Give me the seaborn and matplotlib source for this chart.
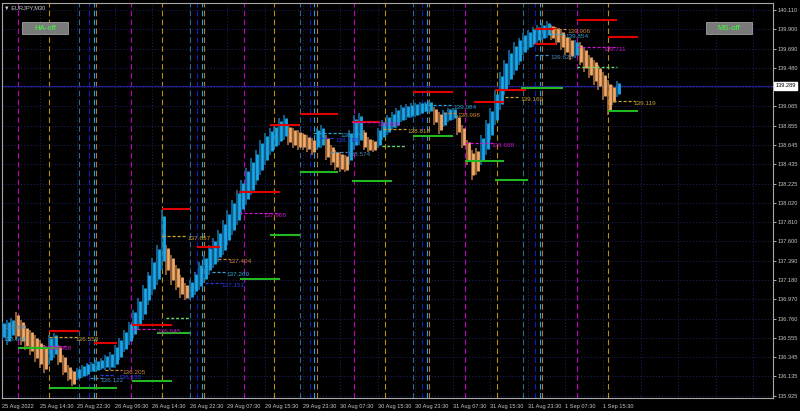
import numpy as np
import pandas as pd
import matplotlib
matplotlib.use("Agg")
import matplotlib.pyplot as plt
import matplotlib.patches as patches
import seaborn as sns

# --------------------------------------------------------------------------------
# Data (hourly Heiken Ashi ranges, EURJPY M30)
# --------------------------------------------------------------------------------

Hi = [136.73, 136.75, 136.77, 136.83, 136.75, 136.69, 136.64, 136.58, 136.53, 136.48,
      136.58, 136.61, 136.48, 136.37, 136.26, 136.21, 136.23, 136.26, 136.28, 136.29,
      136.31, 136.33, 136.37, 136.40, 136.48, 136.55, 136.64, 136.73, 136.86, 136.99,
      137.13, 137.27, 137.42, 137.56, 137.94, 137.56, 137.45, 137.34, 137.24, 137.15,
      137.18, 137.27, 137.38, 137.45, 137.56, 137.64, 137.72, 137.83, 137.94, 138.05,
      138.16, 138.27, 138.40, 138.50, 138.59, 138.70, 138.78, 138.83, 138.87, 138.94,
      138.97, 138.86, 138.83, 138.81, 138.78, 138.75, 138.72, 138.83, 138.86, 138.75,
      138.65, 138.59, 138.57, 138.54, 138.81, 138.97, 138.99, 138.81, 138.73, 138.70,
      138.83, 138.92, 138.97, 139.00, 139.05, 139.08, 139.09, 139.10, 139.10, 139.11,
      139.11, 139.12, 139.06, 139.00, 139.02, 139.05, 139.05, 138.97, 138.86, 138.70,
      138.59, 138.61, 138.75, 138.92, 139.05, 139.24, 139.44, 139.57, 139.68, 139.76,
      139.81, 139.86, 139.89, 139.93, 139.95, 139.97, 139.99, 139.95, 139.93, 139.89,
      139.84, 139.81, 139.78, 139.76, 139.70, 139.62, 139.57, 139.51, 139.44, 139.35,
      139.30, 139.34]

Lo = [136.53, 136.48, 136.55, 136.53, 136.48, 136.42, 136.37, 136.29, 136.23, 136.17,
      136.26, 136.34, 136.26, 136.15, 136.08, 136.03, 136.10, 136.12, 136.14, 136.18,
      136.18, 136.21, 136.21, 136.21, 136.23, 136.31, 136.40, 136.48, 136.55, 136.64,
      136.75, 136.91, 137.02, 137.13, 137.29, 137.24, 137.13, 137.07, 136.99, 136.96,
      136.96, 137.02, 137.07, 137.15, 137.24, 137.31, 137.38, 137.45, 137.56, 137.67,
      137.78, 137.89, 138.00, 138.10, 138.21, 138.32, 138.43, 138.54, 138.59, 138.65,
      138.70, 138.65, 138.61, 138.59, 138.59, 138.57, 138.54, 138.59, 138.61, 138.48,
      138.43, 138.37, 138.35, 138.35, 138.43, 138.59, 138.65, 138.59, 138.57, 138.57,
      138.61, 138.70, 138.75, 138.81, 138.83, 138.89, 138.92, 138.94, 138.95, 138.97,
      139.00, 138.99, 138.86, 138.77, 138.84, 138.89, 138.92, 138.75, 138.61, 138.43,
      138.27, 138.32, 138.43, 138.54, 138.70, 138.86, 139.03, 139.19, 139.30, 139.40,
      139.51, 139.62, 139.68, 139.71, 139.75, 139.78, 139.81, 139.78, 139.73, 139.68,
      139.62, 139.57, 139.59, 139.51, 139.44, 139.37, 139.30, 139.24, 139.13, 138.97,
      139.08, 139.17]

# b = bullish (blue), o = bearish (sandy)
Dirs = ("bbbooooooo" "bboooobbbb" "bbbbbbbbbb" "bbbbbooooo" "bbbbbbbbbb"
        "bbbbbbbbbb" "boooooobbo" "oooobbbooo" "bbbbbbbbbb" "bboobbbooo"
        "oobbbbbbbb" "bbbbbbbooo" "oobooooooo" "ob")

Date_Labels = ["25 Aug 2022", "25 Aug 14:30", "25 Aug 22:30", "26 Aug 06:30", "26 Aug 14:30",
               "26 Aug 22:30", "29 Aug 07:30", "29 Aug 15:30", "29 Aug 23:30", "30 Aug 07:30",
               "30 Aug 15:30", "30 Aug 23:30", "31 Aug 07:30", "31 Aug 15:30", "31 Aug 23:30",
               "1 Sep 07:30", "1 Sep 15:30"]

Price_Ticks = [140.110, 139.900, 139.690, 139.480, 139.065, 138.855, 138.645, 138.435,
               138.225, 138.020, 137.810, 137.600, 137.390, 137.180, 136.970, 136.760,
               136.555, 136.345, 136.135, 135.925]

Bid = 139.289

# session separators (bar index)
Sep_Magenta = [7, 55, 103, 150, 197, 245]
Sep_Gold = [20, 68, 116, 163, 211, 258]
Sep_Teal = [33, 80, 127, 175, 222]
Sep_Blue = [37, 83, 131, 179, 227]
Sep_Cyan = [39, 85, 133, 181, 229]
Sep_Orange = [40, 86, 134, 182, 230]

# highs / lows segments: start bar, end bar, price
Red_Start = [20, 39, 55.5, 68, 83, 101, 114, 127, 149, 175, 201, 210, 227, 227, 245, 258]
Red_End = [33, 49, 72.5, 80, 93, 118.5, 127, 143, 161, 192, 214, 223, 236.5, 236, 262, 271]
Red_Price = [136.63, 136.50, 136.69, 137.95, 137.54, 138.14, 138.86, 138.98, 138.89,
             139.22, 139.11, 139.24, 139.90, 139.74, 140.00, 139.82]

Green_Start = [7, 20, 55.5, 66, 114, 101.5, 127, 149, 175, 197, 210, 221, 258]
Green_End = [24, 49, 72.5, 80, 127, 118.5, 143, 166, 192, 214, 224, 239, 271]
Green_Price = [136.44, 136.01, 136.09, 136.61, 137.67, 137.19, 138.35, 138.25, 138.74,
               138.47, 138.27, 139.26, 139.01]

Lime_Start = [245, 162, 70]
Lime_End = [262, 172, 80]
Lime_Price = [139.49, 138.64, 136.77]

# labelled levels
Lvl_Price = [136.558, 136.468, 136.645, 136.205, 136.122, 136.155, 137.657, 137.908,
             137.404, 137.269, 137.151, 138.776, 138.718, 138.574, 138.896, 138.818,
             139.084, 138.998, 138.668, 139.169, 139.906, 139.854, 139.620, 139.711,
             139.119, 136.696, 136.566]
Lvl_Start = [20.2, 17.6, 55.5, 44.0, 37.6, 41.8, 68.2, 101.0, 92.1, 89.6, 86.5, 132.5,
             135.5, 139.8, 149.0, 162.3, 181.5, 187.9, 197.2, 214.3, 234.7, 233.4,
             227.0, 245.0, 260.2, 0.0, 0.0]
Lvl_End = [32.5, 27.8, 66.1, 51.2, 43.1, 47.4, 78.9, 118.5, 97.2, 96.0, 93.8, 145.3,
           141.9, 147.0, 160.2, 172.5, 192.1, 193.8, 210.0, 220.7, 241.1, 239.8,
           233.4, 262.0, 269.6, 0.0, 0.0]
Lvl_Text_X = [31.2, 19.7, 66.1, 51.2, 42.0, 49.5, 78.9, 111.2, 96.3, 95.5, 93.4, 144.0,
              141.9, 147.0, 159.8, 172.5, 192.1, 193.8, 208.7, 220.7, 240.7, 239.8,
              233.8, 256.0, 268.8, 0.6, 0.6]
Lvl_Kind = ["gold", "mag", "mag", "peru", "steel", "blue", "gold", "mag", "peru", "teal",
            "blue", "teal", "blue", "steel", "mag", "gold", "teal", "peru", "mag", "gold",
            "peru", "teal", "steel", "mag", "gold", "steel", "teal"]

Kind_Colors = {"gold": "#C9A234", "mag": "#C818C8", "peru": "#CD853F", "steel": "#4A86B8",
               "teal": "#2FA2D2", "blue": "#2A3AE0"}

# --------------------------------------------------------------------------------
# Figure
# --------------------------------------------------------------------------------

sns.set_style("dark", {"axes.facecolor": "black", "figure.facecolor": "black",
                       "axes.edgecolor": "#a8a8a8", "grid.color": "#202060"})
plt.rcParams['font.family'] = ['Liberation Sans', 'DejaVu Sans']

fig = plt.figure(figsize=(8, 4.11), dpi=100)
fig.patch.set_facecolor("black")
ax = fig.add_axes([2 / 800, 13 / 411, 771 / 800, 395 / 411])
ax.set_facecolor("black")

X_Max = 328.4
ax.set_xlim(0.13, X_Max)
ax.set_ylim(135.901, 140.186)

Grid_Style = dict(color="#23236a", lw=0.7, ls=(0, (1, 2.2)), zorder=0)
for t in Price_Ticks + [139.275]:
    ax.axhline(t, **Grid_Style)
Grid_X = np.arange(0, X_Max, 16)
for g in Grid_X:
    ax.axvline(g, **Grid_Style)

Sep_Style = dict(lw=0.8, ls=(0, (5, 3)), zorder=1)
ax.vlines(Sep_Magenta, 135.901, 140.186, color="#C000C0", **Sep_Style)
ax.vlines(Sep_Gold, 135.901, 140.186, color="#B8900E", **Sep_Style)
ax.vlines(Sep_Teal, 135.901, 140.186, color="#2E6B8A", **Sep_Style)
ax.vlines(Sep_Blue, 135.901, 140.186, color="#1818C8", **Sep_Style)
ax.vlines(Sep_Cyan, 135.901, 140.186, color="#22A8D0", **Sep_Style)
ax.vlines(Sep_Orange, 135.901, 140.186, color="#B87838", **Sep_Style)

ax.axhline(Bid, color="#20208C", lw=0.9, zorder=1)

# --------------------------------------------------------------------------------
# Candles
# --------------------------------------------------------------------------------

df = pd.DataFrame({"hi": Hi, "lo": Lo, "dir": list(Dirs)})
df["bar"] = np.arange(len(df)) * 2 + 0.5
rng = df["hi"] - df["lo"]
df["b_lo"] = df["lo"] + 0.15 * rng
df["b_hi"] = df["hi"] - 0.10 * rng

Wick_Col = {"b": "#1478B0", "o": "#B4783E"}
Body_Col = {"b": "#1AA8EA", "o": "#F2AA6A"}
for d in ["b", "o"]:
    sub = df[df["dir"] == d]
    ax.vlines(sub["bar"] - 0.5, sub["lo"], sub["hi"], color=Wick_Col[d], lw=1.1, zorder=3)
    ax.vlines(sub["bar"] + 0.3, sub["b_lo"], sub["b_hi"], color=Body_Col[d], lw=2.0, zorder=4)

# --------------------------------------------------------------------------------
# Levels
# --------------------------------------------------------------------------------

ax.hlines(Red_Price, Red_Start, Red_End, color="#E00000", lw=1.5, zorder=5)
ax.hlines(Green_Price, Green_Start, Green_End, color="#22B822", lw=1.5, zorder=5)
ax.hlines(Lime_Price, Lime_Start, Lime_End, color="#66DD66", lw=1.0, ls=(0, (2, 1.5)), zorder=5)

for p, s, e, tx, k in zip(Lvl_Price, Lvl_Start, Lvl_End, Lvl_Text_X, Lvl_Kind):
    c = Kind_Colors[k]
    if e > s:
        ax.hlines(p, s, e, color=c, lw=0.9, ls=(0, (2.5, 1.5)), zorder=5)
    ax.text(tx, p, f"{p:.3f}", color=c, fontsize=4.6, ha="left", va="top", zorder=6)

# --------------------------------------------------------------------------------
# Axes styling
# --------------------------------------------------------------------------------

ax.yaxis.tick_right()
ax.set_yticks(Price_Ticks)
ax.set_yticklabels([f"{t:.3f}" for t in Price_Ticks])
ax.set_xticks(Grid_X[:len(Date_Labels)])
ax.set_xticklabels(Date_Labels, ha="left")
ax.tick_params(axis="both", colors="#c8c8c8", labelsize=4.1, length=2, width=0.6, pad=1.5)
ax.tick_params(axis="x", pad=2)
for sp in ax.spines.values():
    sp.set_color("#a8a8a8")
    sp.set_linewidth(0.8)
ax.grid(False)

ax.text(1.003, Bid, f"{Bid:.3f}", transform=ax.get_yaxis_transform(), fontsize=4.1,
        color="black", ha="left", va="center", zorder=10, clip_on=False,
        bbox=dict(boxstyle="square,pad=0.25", facecolor="white", edgecolor="white"))

ax.text(0.003, 0.993, "\u25bc EURJPY,M30", transform=ax.transAxes, fontsize=4.1,
        color="#d0d0d0", ha="left", va="top", zorder=10)

for bx, label in [(22, "HA-off"), (706, "MS-off")]:
    ax.add_patch(patches.Rectangle((bx / 800, 1 - 34.5 / 411), 46 / 800, 12 / 411,
                                   transform=fig.transFigure, facecolor="#7a7a7a",
                                   edgecolor="#a0a0a0", lw=0.6, zorder=20, clip_on=False))
    ax.text((bx + 23) / 800, 1 - 28.5 / 411, label, transform=fig.transFigure,
            ha="center", va="center", color="#3CFF3C", fontsize=5.6, zorder=21)

fig.savefig("out.png", dpi=100, facecolor="black")
